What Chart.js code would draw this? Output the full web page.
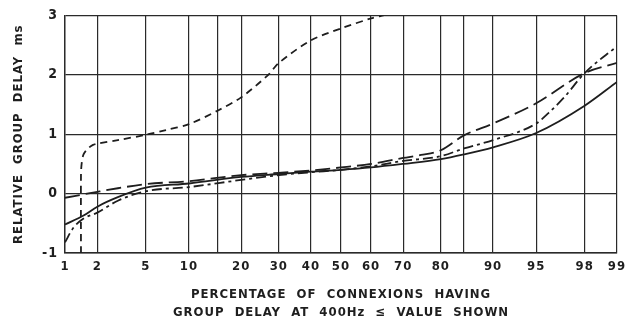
<!DOCTYPE html>
<html>
<head>
<meta charset="utf-8">
<script src="https://cdn.jsdelivr.net/npm/chart.js@4"></script>
<style>
html,body{margin:0;padding:0;background:#fff;}
#wrap{width:638px;height:326px;position:relative;}
</style>
</head>
<body>
<div id="wrap"><canvas id="c" width="638" height="326"></canvas></div>
<script>
// ---- data (percent of connexions, relative group delay in ms) ----
const xTickPct    = [1, 2, 5, 10, 15, 20, 30, 40, 50, 60, 70, 80, 85, 90, 95, 98, 99];
const xTickLabels = ['1','2','5','10','','20','30','40','50','60','70','80','','90','95','98','99'];
const yTicks      = [-1, 0, 1, 2, 3];

const solidPct = [1, 1.5, 2, 3, 5, 10, 20, 30, 40, 50, 60, 70, 80, 85, 90, 95, 98, 99];
const solidVal = [-0.52, -0.37, -0.22, -0.06, 0.10, 0.17, 0.28, 0.33, 0.37, 0.40, 0.44, 0.50, 0.58, 0.66, 0.78, 1.02, 1.48, 1.88];

const longDashPct = [1, 2, 3, 5, 10, 20, 30, 40, 50, 60, 70, 75, 80, 85, 90, 95, 98, 99];
const longDashVal = [-0.07, 0.03, 0.09, 0.16, 0.21, 0.31, 0.35, 0.39, 0.44, 0.50, 0.60, 0.65, 0.73, 0.98, 1.18, 1.52, 2.03, 2.20];

const dashDotPct = [1, 1.2, 1.5, 2, 3, 5, 10, 20, 30, 40, 50, 60, 70, 80, 85, 90, 95, 96, 97, 98, 99];
const dashDotVal = [-0.82, -0.58, -0.42, -0.32, -0.12, 0.04, 0.11, 0.23, 0.31, 0.36, 0.40, 0.46, 0.55, 0.63, 0.76, 0.90, 1.18, 1.36, 1.62, 2.03, 2.48];

const shortDashPct = [1.42, 1.42, 1.44, 1.5, 1.65, 1.83, 2, 3, 5, 7, 10, 15, 20, 27, 30, 40, 50, 60, 64];
const shortDashVal = [-1, 0.3, 0.5, 0.66, 0.76, 0.82, 0.84, 0.9, 0.99, 1.07, 1.17, 1.4, 1.62, 2.0, 2.2, 2.58, 2.78, 2.95, 3.0];

// ---- probability-paper transform (normal quantile) ----
function probit(p){
  const a=[-3.969683028665376e+01,2.209460984245205e+02,-2.759285104469687e+02,1.383577518672690e+02,-3.066479806614716e+01,2.506628277459239e+00];
  const b=[-5.447609879822406e+01,1.615858368580409e+02,-1.556989798598866e+02,6.680131188771972e+01,-1.328068155288572e+01];
  const c=[-7.784894002430293e-03,-3.223964580411365e-01,-2.400758277161838e+00,-2.549732539343734e+00,4.374664141464968e+00,2.938163982698783e+00];
  const d=[7.784695709041462e-03,3.224671290700398e-01,2.445134137142996e+00,3.754408661907416e+00];
  const pl=0.02425, ph=1-pl; let q,r;
  if(p<pl){q=Math.sqrt(-2*Math.log(p));return (((((c[0]*q+c[1])*q+c[2])*q+c[3])*q+c[4])*q+c[5])/((((d[0]*q+d[1])*q+d[2])*q+d[3])*q+1);}
  if(p<=ph){q=p-0.5;r=q*q;return (((((a[0]*r+a[1])*r+a[2])*r+a[3])*r+a[4])*r+a[5])*q/(((((b[0]*r+b[1])*r+b[2])*r+b[3])*r+b[4])*r+1);}
  q=Math.sqrt(-2*Math.log(1-p));return -(((((c[0]*q+c[1])*q+c[2])*q+c[3])*q+c[4])*q+c[5])/((((d[0]*q+d[1])*q+d[2])*q+d[3])*q+1);
}
const toPts = (ps, vs) => ps.map((p,i)=>({x: probit(p/100), y: vs[i]}));

const ink = '#1e1e1e';
const FONT = '"DejaVu Sans Condensed","DejaVu Sans",sans-serif';

const common = {borderColor: ink, borderWidth: 1.8, pointRadius: 0, fill: false, showLine: true};

const spacing = {
  id: 'spacing',
  beforeDraw(chart){ chart.ctx.letterSpacing = '1px'; }
};

new Chart(document.getElementById('c'), {
  type: 'scatter',
  plugins: [spacing],
  data: {
    datasets: [
      Object.assign({label:'solid', data: toPts(solidPct, solidVal), cubicInterpolationMode:'monotone'}, common),
      Object.assign({label:'long dash', data: toPts(longDashPct, longDashVal), cubicInterpolationMode:'monotone', borderDash:[15,6]}, common),
      Object.assign({label:'dash dot', data: toPts(dashDotPct, dashDotVal), cubicInterpolationMode:'monotone', borderDash:[10,4,3,4]}, common),
      Object.assign({label:'short dash', data: toPts(shortDashPct, shortDashVal), tension:0.3, borderDash:[7,5]}, common)
    ]
  },
  options: {
    responsive: false,
    animation: false,
    layout: {padding: {top: 12, right: 21, left: 0, bottom: 0}},
    plugins: {legend: {display: false}, tooltip: {enabled: false}},
    scales: {
      x: {
        type: 'linear',
        min: probit(0.01), max: probit(0.99),
        afterBuildTicks: s => { s.ticks = xTickPct.map(p => ({value: probit(p/100)})); },
        afterFit: s => { s.height = 73; },
        grid: {color: '#2a2a2a', lineWidth: 1.2, drawTicks: false},
        border: {color: '#2a2a2a', width: 1.4},
        ticks: {
          autoSkip: false, maxRotation: 0, padding: 6, color: ink,
          font: {family: FONT, size: 13, weight: 'bold'},
          callback: (v, i) => xTickLabels[i]
        },
        title: {
          display: true, color: ink,
          text: ['PERCENTAGE  OF  CONNEXIONS  HAVING', 'GROUP  DELAY  AT  400Hz  ≤  VALUE  SHOWN'],
          font: {family: FONT, size: 13, weight: 'bold', lineHeight: 1.385},
          padding: {top: 2, bottom: 4}
        }
      },
      y: {
        min: -1, max: 3,
        afterBuildTicks: s => { s.ticks = yTicks.map(v => ({value: v})); },
        afterFit: s => { s.width = 65; },
        grid: {color: '#2a2a2a', lineWidth: 1.2, drawTicks: false},
        border: {color: '#2a2a2a', width: 1.4},
        ticks: {padding: 7, color: ink, font: {family: FONT, size: 14, weight: 'bold'}},
        title: {
          display: true, color: ink,
          text: 'RELATIVE  GROUP  DELAY  ms',
          font: {family: FONT, size: 13, weight: 'bold'},
          padding: {top: 11, bottom: 0}
        }
      }
    }
  }
});
</script>
</body>
</html>
